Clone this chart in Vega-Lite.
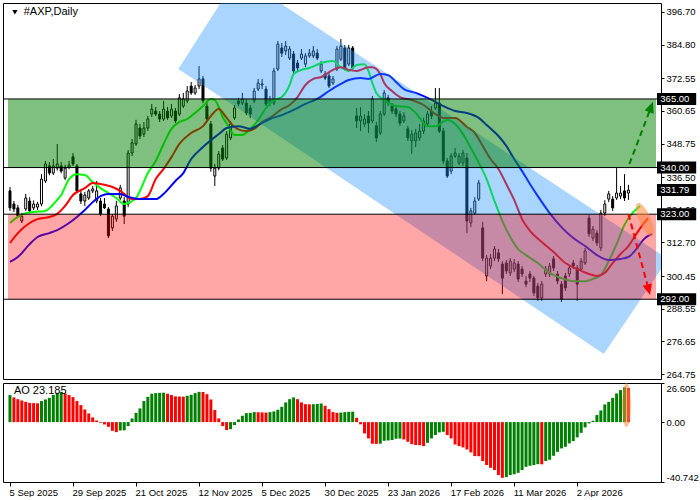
{
"$schema":"https://vega.github.io/schema/vega-lite/v6.json",
"padding":{"left":2,"top":2,"right":0,"bottom":0},
"spacing":2,
"background":"white",
"resolve":{"scale":{"color":"independent","fill":"independent","x":"independent","y":"independent"}},
"config":{"view":{"stroke":"#000","strokeWidth":1},"font":"Liberation Sans","axis":{"labelFont":"Liberation Sans","labelFontSize":9.5,"labelColor":"#000","tickColor":"#000","tickWidth":1,"grid":false,"domain":false,"labelOverlap":false}},
"datasets":{
"bars":[
{"i":0,"o":331.5,"h":332.9,"l":324.2,"c":325.3,"ao":18.4,"ad":"up"},
{"i":1,"o":326.7,"h":327.8,"l":323.8,"c":324.9,"ao":16.8,"ad":"dn"},
{"i":2,"o":325.3,"h":326.4,"l":321.6,"c":322.3,"ao":15.6,"ad":"dn"},
{"i":3,"o":320.5,"h":323.5,"l":319.8,"c":322.3,"ao":14.7,"ad":"dn"},
{"i":4,"o":324.9,"h":330.4,"l":324.2,"c":328.9,"ao":13.8,"ad":"dn"},
{"i":5,"o":327.8,"h":329.2,"l":323.5,"c":324.2,"ao":13.1,"ad":"dn"},
{"i":6,"o":325.3,"h":328.0,"l":324.5,"c":326.7,"ao":12.9,"ad":"dn"},
{"i":7,"o":325.6,"h":327.5,"l":324.6,"c":326.7,"ao":12.8,"ad":"dn"},
{"i":8,"o":326.7,"h":337.6,"l":325.9,"c":335.8,"ao":14.3,"ad":"up"},
{"i":9,"o":335.1,"h":342.4,"l":334.4,"c":341.3,"ao":15.4,"ad":"up"},
{"i":10,"o":340.6,"h":342.0,"l":337.2,"c":338.0,"ao":16.5,"ad":"up"},
{"i":11,"o":338.0,"h":343.1,"l":337.3,"c":340.6,"ao":18.4,"ad":"up"},
{"i":12,"o":339.8,"h":348.6,"l":338.9,"c":341.3,"ao":19.9,"ad":"up"},
{"i":13,"o":340.6,"h":342.0,"l":337.9,"c":338.7,"ao":20.6,"ad":"up"},
{"i":14,"o":336.2,"h":341.0,"l":335.5,"c":339.8,"ao":19.5,"ad":"dn"},
{"i":15,"o":340.2,"h":342.4,"l":339.4,"c":340.9,"ao":18.4,"ad":"dn"},
{"i":16,"o":343.9,"h":345.3,"l":340.6,"c":341.3,"ao":17.0,"ad":"dn"},
{"i":17,"o":340.6,"h":341.3,"l":330.7,"c":331.5,"ao":14.3,"ad":"dn"},
{"i":18,"o":330.4,"h":331.5,"l":326.7,"c":327.8,"ao":11.6,"ad":"dn"},
{"i":19,"o":327.8,"h":331.1,"l":326.0,"c":330.0,"ao":8.6,"ad":"dn"},
{"i":20,"o":328.9,"h":332.2,"l":328.2,"c":331.5,"ao":5.9,"ad":"dn"},
{"i":21,"o":331.5,"h":333.3,"l":330.7,"c":332.2,"ao":3.2,"ad":"dn"},
{"i":22,"o":327.8,"h":335.1,"l":327.0,"c":331.5,"ao":1.1,"ad":"dn"},
{"i":23,"o":327.8,"h":328.9,"l":322.3,"c":323.1,"ao":-0.5,"ad":"dn"},
{"i":24,"o":326.7,"h":328.9,"l":324.9,"c":325.3,"ao":-1.6,"ad":"dn"},
{"i":25,"o":324.9,"h":325.6,"l":314.3,"c":315.1,"ao":-3.2,"ad":"dn"},
{"i":26,"o":318.0,"h":323.1,"l":316.9,"c":322.3,"ao":-5.9,"ad":"dn"},
{"i":27,"o":321.2,"h":327.8,"l":320.2,"c":326.0,"ao":-6.8,"ad":"dn"},
{"i":28,"o":328.9,"h":333.7,"l":328.2,"c":332.6,"ao":-5.7,"ad":"up"},
{"i":29,"o":327.8,"h":329.2,"l":319.4,"c":322.3,"ao":-5.6,"ad":"up"},
{"i":30,"o":326.7,"h":346.4,"l":325.6,"c":345.3,"ao":-2.7,"ad":"up"},
{"i":31,"o":345.3,"h":350.4,"l":344.2,"c":349.0,"ao":2.5,"ad":"up"},
{"i":32,"o":348.6,"h":357.4,"l":347.9,"c":355.9,"ao":6.3,"ad":"up"},
{"i":33,"o":354.4,"h":355.9,"l":350.4,"c":351.5,"ao":9.3,"ad":"up"},
{"i":34,"o":352.2,"h":356.6,"l":351.1,"c":354.4,"ao":14.3,"ad":"up"},
{"i":35,"o":354.4,"h":358.8,"l":353.3,"c":357.7,"ao":17.2,"ad":"up"},
{"i":36,"o":359.5,"h":363.2,"l":358.4,"c":361.3,"ao":19.3,"ad":"up"},
{"i":37,"o":360.6,"h":362.1,"l":358.8,"c":359.5,"ao":19.7,"ad":"up"},
{"i":38,"o":359.5,"h":360.6,"l":356.6,"c":357.7,"ao":19.9,"ad":"up"},
{"i":39,"o":357.7,"h":364.3,"l":357.0,"c":361.3,"ao":20.0,"ad":"up"},
{"i":40,"o":360.6,"h":362.1,"l":357.4,"c":358.1,"ao":19.3,"ad":"dn"},
{"i":41,"o":358.8,"h":363.2,"l":358.1,"c":361.3,"ao":18.4,"ad":"dn"},
{"i":42,"o":360.6,"h":361.7,"l":356.2,"c":357.0,"ao":17.5,"ad":"dn"},
{"i":43,"o":359.5,"h":366.8,"l":358.8,"c":365.4,"ao":17.4,"ad":"dn"},
{"i":44,"o":362.4,"h":367.2,"l":361.7,"c":365.0,"ao":17.3,"ad":"dn"},
{"i":45,"o":364.3,"h":369.7,"l":363.5,"c":367.9,"ao":17.9,"ad":"up"},
{"i":46,"o":369.7,"h":371.2,"l":366.5,"c":367.2,"ao":18.6,"ad":"up"},
{"i":47,"o":367.2,"h":370.1,"l":366.5,"c":369.0,"ao":19.7,"ad":"up"},
{"i":48,"o":369.7,"h":377.0,"l":368.6,"c":372.3,"ao":20.6,"ad":"up"},
{"i":49,"o":372.3,"h":373.4,"l":363.5,"c":364.3,"ao":20.5,"ad":"dn"},
{"i":50,"o":362.4,"h":364.3,"l":356.6,"c":357.7,"ao":19.0,"ad":"dn"},
{"i":51,"o":355.9,"h":357.0,"l":338.5,"c":339.8,"ao":15.4,"ad":"dn"},
{"i":52,"o":336.9,"h":341.3,"l":333.3,"c":339.8,"ao":8.2,"ad":"dn"},
{"i":53,"o":339.8,"h":346.0,"l":339.0,"c":344.9,"ao":2.5,"ad":"dn"},
{"i":54,"o":347.1,"h":348.2,"l":342.4,"c":343.1,"ao":-2.7,"ad":"dn"},
{"i":55,"o":343.5,"h":353.3,"l":342.8,"c":352.2,"ao":-5.4,"ad":"dn"},
{"i":56,"o":350.8,"h":357.0,"l":350.0,"c":355.9,"ao":-4.8,"ad":"up"},
{"i":57,"o":358.1,"h":362.8,"l":357.4,"c":361.7,"ao":-2.0,"ad":"up"},
{"i":58,"o":364.3,"h":365.4,"l":362.4,"c":363.2,"ao":1.8,"ad":"up"},
{"i":59,"o":363.5,"h":367.2,"l":362.8,"c":365.0,"ao":4.3,"ad":"up"},
{"i":60,"o":363.5,"h":365.0,"l":359.1,"c":359.9,"ao":6.1,"ad":"up"},
{"i":61,"o":361.7,"h":362.8,"l":358.1,"c":359.5,"ao":6.3,"ad":"up"},
{"i":62,"o":364.3,"h":369.0,"l":363.5,"c":367.9,"ao":6.8,"ad":"up"},
{"i":63,"o":368.6,"h":372.3,"l":367.9,"c":370.8,"ao":6.7,"ad":"dn"},
{"i":64,"o":370.1,"h":372.3,"l":368.6,"c":370.5,"ao":6.6,"ad":"dn"},
{"i":65,"o":368.6,"h":369.7,"l":362.4,"c":363.2,"ao":6.5,"ad":"dn"},
{"i":66,"o":363.5,"h":366.1,"l":362.4,"c":364.6,"ao":6.8,"ad":"up"},
{"i":67,"o":363.5,"h":376.3,"l":362.8,"c":375.2,"ao":7.3,"ad":"up"},
{"i":68,"o":375.9,"h":386.1,"l":375.2,"c":385.0,"ao":8.4,"ad":"up"},
{"i":69,"o":383.6,"h":385.4,"l":380.3,"c":381.7,"ao":10.4,"ad":"up"},
{"i":70,"o":382.5,"h":386.1,"l":381.0,"c":384.3,"ao":13.4,"ad":"up"},
{"i":71,"o":379.9,"h":384.3,"l":379.2,"c":383.2,"ao":15.6,"ad":"up"},
{"i":72,"o":381.4,"h":382.5,"l":374.4,"c":375.2,"ao":16.8,"ad":"up"},
{"i":73,"o":378.1,"h":379.2,"l":375.2,"c":376.3,"ao":15.6,"ad":"dn"},
{"i":74,"o":379.9,"h":383.2,"l":379.2,"c":381.4,"ao":13.4,"ad":"dn"},
{"i":75,"o":377.7,"h":381.7,"l":376.6,"c":380.7,"ao":12.2,"ad":"dn"},
{"i":76,"o":380.7,"h":383.2,"l":380.0,"c":381.7,"ao":12.1,"ad":"dn"},
{"i":77,"o":380.7,"h":384.3,"l":379.9,"c":382.5,"ao":12.2,"ad":"up"},
{"i":78,"o":381.7,"h":383.2,"l":379.2,"c":379.9,"ao":12.4,"ad":"up"},
{"i":79,"o":375.2,"h":378.8,"l":374.4,"c":377.7,"ao":12.7,"ad":"up"},
{"i":80,"o":374.1,"h":375.2,"l":371.9,"c":372.6,"ao":11.1,"ad":"dn"},
{"i":81,"o":373.4,"h":374.4,"l":369.0,"c":369.7,"ao":8.8,"ad":"dn"},
{"i":82,"o":370.8,"h":373.4,"l":370.1,"c":372.3,"ao":6.8,"ad":"dn"},
{"i":83,"o":375.9,"h":384.3,"l":375.2,"c":383.2,"ao":6.3,"ad":"dn"},
{"i":84,"o":379.5,"h":386.9,"l":378.8,"c":384.3,"ao":6.5,"ad":"up"},
{"i":85,"o":383.6,"h":384.7,"l":375.5,"c":376.3,"ao":6.8,"ad":"up"},
{"i":86,"o":377.7,"h":384.7,"l":377.0,"c":383.6,"ao":7.0,"ad":"up"},
{"i":87,"o":383.6,"h":384.3,"l":375.5,"c":376.3,"ao":7.1,"ad":"up"},
{"i":88,"o":358.8,"h":361.7,"l":354.4,"c":357.0,"ao":2.9,"ad":"dn"},
{"i":89,"o":357.0,"h":362.1,"l":353.3,"c":358.8,"ao":-1.5,"ad":"dn"},
{"i":90,"o":355.9,"h":359.5,"l":354.8,"c":357.7,"ao":-7.7,"ad":"dn"},
{"i":91,"o":358.8,"h":360.6,"l":352.6,"c":356.2,"ao":-11.1,"ad":"dn"},
{"i":92,"o":357.0,"h":366.1,"l":356.2,"c":365.0,"ao":-14.7,"ad":"dn"},
{"i":93,"o":355.2,"h":356.6,"l":349.3,"c":350.8,"ao":-14.8,"ad":"dn"},
{"i":94,"o":352.6,"h":360.6,"l":351.9,"c":359.5,"ao":-14.7,"ad":"up"},
{"i":95,"o":359.5,"h":368.3,"l":358.8,"c":367.2,"ao":-12.7,"ad":"up"},
{"i":96,"o":365.4,"h":366.5,"l":362.4,"c":363.5,"ao":-12.5,"ad":"up"},
{"i":97,"o":362.4,"h":363.5,"l":359.5,"c":360.6,"ao":-12.2,"ad":"up"},
{"i":98,"o":361.3,"h":362.4,"l":358.4,"c":359.5,"ao":-11.3,"ad":"up"},
{"i":99,"o":359.5,"h":360.6,"l":355.2,"c":356.2,"ao":-11.2,"ad":"up"},
{"i":100,"o":357.0,"h":360.2,"l":356.2,"c":358.8,"ao":-11.8,"ad":"dn"},
{"i":101,"o":354.1,"h":355.2,"l":349.7,"c":350.8,"ao":-13.4,"ad":"dn"},
{"i":102,"o":349.7,"h":353.7,"l":345.0,"c":352.2,"ao":-15.0,"ad":"dn"},
{"i":103,"o":349.7,"h":354.1,"l":347.5,"c":352.6,"ao":-15.6,"ad":"dn"},
{"i":104,"o":350.8,"h":355.9,"l":349.7,"c":353.3,"ao":-15.7,"ad":"dn"},
{"i":105,"o":353.3,"h":358.1,"l":352.2,"c":357.0,"ao":-16.3,"ad":"dn"},
{"i":106,"o":355.9,"h":360.6,"l":355.2,"c":359.5,"ao":-14.1,"ad":"up"},
{"i":107,"o":360.6,"h":362.4,"l":357.7,"c":358.8,"ao":-11.1,"ad":"up"},
{"i":108,"o":361.7,"h":369.0,"l":361.0,"c":363.5,"ao":-8.8,"ad":"up"},
{"i":109,"o":363.5,"h":369.0,"l":352.6,"c":353.3,"ao":-7.0,"ad":"up"},
{"i":110,"o":353.3,"h":354.4,"l":341.3,"c":342.4,"ao":-6.6,"ad":"up"},
{"i":111,"o":342.4,"h":343.5,"l":336.2,"c":336.9,"ao":-8.8,"ad":"dn"},
{"i":112,"o":338.7,"h":345.3,"l":337.6,"c":344.2,"ao":-11.1,"ad":"dn"},
{"i":113,"o":344.2,"h":347.1,"l":343.5,"c":345.3,"ao":-15.2,"ad":"dn"},
{"i":114,"o":341.7,"h":345.3,"l":340.9,"c":344.2,"ao":-16.3,"ad":"dn"},
{"i":115,"o":341.7,"h":346.4,"l":340.6,"c":345.3,"ao":-17.2,"ad":"dn"},
{"i":116,"o":343.5,"h":345.3,"l":316.1,"c":320.5,"ao":-18.6,"ad":"dn"},
{"i":117,"o":319.8,"h":325.3,"l":318.3,"c":324.2,"ao":-20.6,"ad":"dn"},
{"i":118,"o":323.4,"h":329.2,"l":322.7,"c":327.8,"ao":-23.1,"ad":"dn"},
{"i":119,"o":328.5,"h":335.5,"l":327.8,"c":334.4,"ao":-23.2,"ad":"dn"},
{"i":120,"o":318.0,"h":320.2,"l":305.9,"c":307.0,"ao":-26.5,"ad":"dn"},
{"i":121,"o":300.5,"h":308.1,"l":298.6,"c":307.0,"ao":-29.2,"ad":"dn"},
{"i":122,"o":304.1,"h":308.5,"l":303.0,"c":307.0,"ao":-31.1,"ad":"dn"},
{"i":123,"o":307.0,"h":311.4,"l":305.9,"c":310.3,"ao":-32.6,"ad":"dn"},
{"i":124,"o":308.9,"h":310.3,"l":305.6,"c":306.7,"ao":-36.0,"ad":"dn"},
{"i":125,"o":304.8,"h":305.9,"l":293.9,"c":299.7,"ao":-37.9,"ad":"dn"},
{"i":126,"o":305.2,"h":306.3,"l":301.2,"c":302.3,"ao":-37.4,"ad":"up"},
{"i":127,"o":301.6,"h":307.0,"l":300.5,"c":305.9,"ao":-36.0,"ad":"up"},
{"i":128,"o":303.0,"h":306.7,"l":301.9,"c":305.2,"ao":-35.4,"ad":"up"},
{"i":129,"o":304.8,"h":305.9,"l":298.3,"c":299.4,"ao":-34.5,"ad":"up"},
{"i":130,"o":303.0,"h":304.1,"l":300.1,"c":301.2,"ao":-32.6,"ad":"up"},
{"i":131,"o":298.6,"h":300.5,"l":296.4,"c":297.5,"ao":-30.4,"ad":"up"},
{"i":132,"o":301.2,"h":302.3,"l":298.3,"c":299.7,"ao":-29.7,"ad":"up"},
{"i":133,"o":299.7,"h":300.5,"l":293.2,"c":294.3,"ao":-29.2,"ad":"up"},
{"i":134,"o":296.8,"h":297.9,"l":291.4,"c":292.5,"ao":-28.6,"ad":"up"},
{"i":135,"o":292.5,"h":298.6,"l":291.4,"c":297.5,"ao":-28.7,"ad":"dn"},
{"i":136,"o":301.2,"h":304.1,"l":300.1,"c":303.0,"ao":-26.5,"ad":"up"},
{"i":137,"o":301.2,"h":305.2,"l":300.1,"c":304.1,"ao":-25.6,"ad":"up"},
{"i":138,"o":306.7,"h":307.8,"l":302.3,"c":303.4,"ao":-22.9,"ad":"up"},
{"i":139,"o":301.2,"h":302.3,"l":297.5,"c":298.6,"ao":-20.2,"ad":"up"},
{"i":140,"o":297.5,"h":298.6,"l":291.0,"c":292.1,"ao":-17.9,"ad":"up"},
{"i":141,"o":300.5,"h":301.6,"l":295.0,"c":296.1,"ao":-16.8,"ad":"up"},
{"i":142,"o":301.2,"h":304.5,"l":300.1,"c":303.4,"ao":-14.5,"ad":"up"},
{"i":143,"o":305.2,"h":306.3,"l":303.0,"c":304.1,"ao":-12.9,"ad":"up"},
{"i":144,"o":303.4,"h":304.5,"l":291.4,"c":297.5,"ao":-10.4,"ad":"up"},
{"i":145,"o":303.0,"h":307.0,"l":302.3,"c":305.9,"ao":-7.3,"ad":"up"},
{"i":146,"o":305.2,"h":310.7,"l":304.5,"c":309.6,"ao":-3.6,"ad":"up"},
{"i":147,"o":321.6,"h":322.7,"l":314.7,"c":315.8,"ao":-0.9,"ad":"up"},
{"i":148,"o":314.3,"h":318.7,"l":313.2,"c":317.6,"ao":0.9,"ad":"up"},
{"i":149,"o":316.1,"h":317.2,"l":311.4,"c":312.5,"ao":4.8,"ad":"up"},
{"i":150,"o":310.7,"h":324.5,"l":309.6,"c":323.4,"ao":7.9,"ad":"up"},
{"i":151,"o":323.4,"h":328.1,"l":322.3,"c":326.7,"ao":12.0,"ad":"up"},
{"i":152,"o":328.5,"h":331.5,"l":327.4,"c":330.4,"ao":13.8,"ad":"up"},
{"i":153,"o":328.5,"h":329.6,"l":324.2,"c":325.3,"ao":16.5,"ad":"up"},
{"i":154,"o":328.9,"h":339.8,"l":328.2,"c":330.7,"ao":19.5,"ad":"up"},
{"i":155,"o":329.6,"h":333.3,"l":328.5,"c":330.7,"ao":21.8,"ad":"up"},
{"i":156,"o":331.5,"h":337.6,"l":327.8,"c":328.9,"ao":23.6,"ad":"up"},
{"i":157,"o":330.7,"h":333.7,"l":328.2,"c":331.79,"ao":23.185,"ad":"dn"}
],
"gator":[
{"i":0,"v":319.8,"s":"lips"},{"i":2,"v":322.0,"s":"lips"},{"i":4,"v":323.4,"s":"lips"},{"i":6,"v":323.8,"s":"lips"},{"i":9,"v":324.2,"s":"lips"},{"i":10,"v":325.2,"s":"lips"},{"i":12,"v":328.2,"s":"lips"},{"i":13,"v":330.0,"s":"lips"},{"i":15,"v":335.8,"s":"lips"},{"i":17,"v":337.6,"s":"lips"},{"i":19,"v":337.3,"s":"lips"},{"i":21,"v":334.7,"s":"lips"},{"i":23,"v":332.5,"s":"lips"},{"i":25,"v":330.7,"s":"lips"},{"i":27,"v":328.9,"s":"lips"},{"i":29,"v":326.7,"s":"lips"},{"i":31,"v":327.8,"s":"lips"},{"i":32,"v":328.9,"s":"lips"},{"i":33,"v":331.5,"s":"lips"},{"i":35,"v":338.0,"s":"lips"},{"i":37,"v":342.4,"s":"lips"},{"i":39,"v":348.6,"s":"lips"},{"i":41,"v":354.1,"s":"lips"},{"i":43,"v":356.6,"s":"lips"},{"i":45,"v":357.7,"s":"lips"},{"i":47,"v":359.9,"s":"lips"},{"i":49,"v":362.4,"s":"lips"},{"i":51,"v":365.0,"s":"lips"},{"i":52,"v":364.6,"s":"lips"},{"i":53,"v":362.1,"s":"lips"},{"i":54,"v":358.4,"s":"lips"},{"i":55,"v":356.2,"s":"lips"},{"i":57,"v":351.9,"s":"lips"},{"i":59,"v":351.9,"s":"lips"},{"i":61,"v":354.1,"s":"lips"},{"i":63,"v":357.3,"s":"lips"},{"i":65,"v":361.7,"s":"lips"},{"i":67,"v":364.6,"s":"lips"},{"i":69,"v":365.7,"s":"lips"},{"i":71,"v":370.1,"s":"lips"},{"i":72,"v":374.1,"s":"lips"},{"i":74,"v":375.6,"s":"lips"},{"i":76,"v":376.3,"s":"lips"},{"i":79,"v":378.1,"s":"lips"},{"i":82,"v":378.8,"s":"lips"},{"i":84,"v":376.6,"s":"lips"},{"i":86,"v":375.2,"s":"lips"},{"i":88,"v":377.4,"s":"lips"},{"i":90,"v":377.7,"s":"lips"},{"i":91,"v":375.2,"s":"lips"},{"i":92,"v":370.8,"s":"lips"},{"i":93,"v":367.2,"s":"lips"},{"i":95,"v":364.6,"s":"lips"},{"i":98,"v":362.4,"s":"lips"},{"i":101,"v":362.1,"s":"lips"},{"i":103,"v":359.9,"s":"lips"},{"i":106,"v":355.1,"s":"lips"},{"i":108,"v":355.1,"s":"lips"},{"i":111,"v":357.3,"s":"lips"},{"i":113,"v":355.9,"s":"lips"},{"i":115,"v":352.2,"s":"lips"},{"i":117,"v":347.1,"s":"lips"},{"i":119,"v":341.7,"s":"lips"},{"i":121,"v":335.8,"s":"lips"},{"i":123,"v":327.8,"s":"lips"},{"i":125,"v":320.5,"s":"lips"},{"i":127,"v":314.7,"s":"lips"},{"i":129,"v":310.3,"s":"lips"},{"i":131,"v":308.1,"s":"lips"},{"i":134,"v":305.2,"s":"lips"},{"i":137,"v":301.6,"s":"lips"},{"i":140,"v":299.7,"s":"lips"},{"i":143,"v":298.6,"s":"lips"},{"i":146,"v":298.6,"s":"lips"},{"i":148,"v":299.4,"s":"lips"},{"i":150,"v":300.8,"s":"lips"},{"i":152,"v":305.9,"s":"lips"},{"i":154,"v":312.1,"s":"lips"},{"i":156,"v":319.1,"s":"lips"},{"i":158,"v":323.4,"s":"lips"},{"i":160,"v":326.0,"s":"lips"},
{"i":0,"v":312.5,"s":"teeth"},{"i":2,"v":316.1,"s":"teeth"},{"i":5,"v":319.8,"s":"teeth"},{"i":7,"v":321.2,"s":"teeth"},{"i":10,"v":322.0,"s":"teeth"},{"i":12,"v":323.1,"s":"teeth"},{"i":14,"v":326.0,"s":"teeth"},{"i":16,"v":330.0,"s":"teeth"},{"i":19,"v":332.5,"s":"teeth"},{"i":21,"v":334.4,"s":"teeth"},{"i":23,"v":334.0,"s":"teeth"},{"i":26,"v":332.9,"s":"teeth"},{"i":28,"v":331.5,"s":"teeth"},{"i":31,"v":328.5,"s":"teeth"},{"i":33,"v":328.5,"s":"teeth"},{"i":35,"v":329.6,"s":"teeth"},{"i":37,"v":335.8,"s":"teeth"},{"i":39,"v":339.5,"s":"teeth"},{"i":41,"v":343.8,"s":"teeth"},{"i":43,"v":348.6,"s":"teeth"},{"i":46,"v":352.6,"s":"teeth"},{"i":49,"v":355.1,"s":"teeth"},{"i":51,"v":358.8,"s":"teeth"},{"i":53,"v":361.3,"s":"teeth"},{"i":55,"v":358.1,"s":"teeth"},{"i":57,"v":354.8,"s":"teeth"},{"i":60,"v":353.3,"s":"teeth"},{"i":62,"v":354.1,"s":"teeth"},{"i":64,"v":356.6,"s":"teeth"},{"i":66,"v":358.1,"s":"teeth"},{"i":69,"v":361.3,"s":"teeth"},{"i":71,"v":362.8,"s":"teeth"},{"i":73,"v":365.7,"s":"teeth"},{"i":75,"v":370.1,"s":"teeth"},{"i":77,"v":372.3,"s":"teeth"},{"i":79,"v":373.0,"s":"teeth"},{"i":82,"v":375.6,"s":"teeth"},{"i":84,"v":376.6,"s":"teeth"},{"i":86,"v":375.6,"s":"teeth"},{"i":88,"v":375.2,"s":"teeth"},{"i":91,"v":376.6,"s":"teeth"},{"i":92,"v":376.6,"s":"teeth"},{"i":94,"v":374.1,"s":"teeth"},{"i":95,"v":370.8,"s":"teeth"},{"i":97,"v":367.9,"s":"teeth"},{"i":99,"v":365.7,"s":"teeth"},{"i":102,"v":364.6,"s":"teeth"},{"i":105,"v":362.8,"s":"teeth"},{"i":108,"v":359.5,"s":"teeth"},{"i":110,"v":358.1,"s":"teeth"},{"i":113,"v":358.1,"s":"teeth"},{"i":116,"v":354.8,"s":"teeth"},{"i":118,"v":352.6,"s":"teeth"},{"i":120,"v":347.9,"s":"teeth"},{"i":122,"v":343.1,"s":"teeth"},{"i":124,"v":339.5,"s":"teeth"},{"i":126,"v":334.0,"s":"teeth"},{"i":128,"v":328.2,"s":"teeth"},{"i":130,"v":321.2,"s":"teeth"},{"i":132,"v":316.9,"s":"teeth"},{"i":135,"v":312.9,"s":"teeth"},{"i":138,"v":309.2,"s":"teeth"},{"i":141,"v":305.2,"s":"teeth"},{"i":144,"v":303.0,"s":"teeth"},{"i":147,"v":301.2,"s":"teeth"},{"i":149,"v":300.5,"s":"teeth"},{"i":151,"v":301.6,"s":"teeth"},{"i":153,"v":305.2,"s":"teeth"},{"i":155,"v":308.5,"s":"teeth"},{"i":157,"v":311.4,"s":"teeth"},{"i":159,"v":315.8,"s":"teeth"},{"i":161,"v":319.8,"s":"teeth"},{"i":162,"v":321.6,"s":"teeth"},
{"i":0,"v":305.6,"s":"jaw"},{"i":2,"v":307.4,"s":"jaw"},{"i":5,"v":312.1,"s":"jaw"},{"i":7,"v":314.7,"s":"jaw"},{"i":10,"v":316.1,"s":"jaw"},{"i":12,"v":317.2,"s":"jaw"},{"i":15,"v":319.8,"s":"jaw"},{"i":17,"v":322.0,"s":"jaw"},{"i":19,"v":324.5,"s":"jaw"},{"i":21,"v":327.4,"s":"jaw"},{"i":23,"v":329.6,"s":"jaw"},{"i":25,"v":330.4,"s":"jaw"},{"i":28,"v":330.4,"s":"jaw"},{"i":30,"v":329.3,"s":"jaw"},{"i":33,"v":328.5,"s":"jaw"},{"i":37,"v":328.5,"s":"jaw"},{"i":39,"v":330.4,"s":"jaw"},{"i":42,"v":335.1,"s":"jaw"},{"i":44,"v":338.0,"s":"jaw"},{"i":46,"v":343.1,"s":"jaw"},{"i":49,"v":347.5,"s":"jaw"},{"i":53,"v":352.2,"s":"jaw"},{"i":55,"v":354.4,"s":"jaw"},{"i":58,"v":355.1,"s":"jaw"},{"i":61,"v":354.1,"s":"jaw"},{"i":63,"v":355.5,"s":"jaw"},{"i":66,"v":357.7,"s":"jaw"},{"i":69,"v":359.1,"s":"jaw"},{"i":72,"v":361.0,"s":"jaw"},{"i":75,"v":363.2,"s":"jaw"},{"i":78,"v":365.0,"s":"jaw"},{"i":81,"v":367.9,"s":"jaw"},{"i":84,"v":370.5,"s":"jaw"},{"i":86,"v":371.9,"s":"jaw"},{"i":89,"v":372.6,"s":"jaw"},{"i":91,"v":372.3,"s":"jaw"},{"i":94,"v":374.1,"s":"jaw"},{"i":96,"v":373.7,"s":"jaw"},{"i":98,"v":371.2,"s":"jaw"},{"i":100,"v":368.6,"s":"jaw"},{"i":103,"v":367.2,"s":"jaw"},{"i":106,"v":365.4,"s":"jaw"},{"i":110,"v":362.4,"s":"jaw"},{"i":113,"v":360.6,"s":"jaw"},{"i":116,"v":359.9,"s":"jaw"},{"i":119,"v":358.1,"s":"jaw"},{"i":121,"v":355.5,"s":"jaw"},{"i":124,"v":351.5,"s":"jaw"},{"i":126,"v":347.9,"s":"jaw"},{"i":128,"v":343.1,"s":"jaw"},{"i":130,"v":338.7,"s":"jaw"},{"i":132,"v":334.0,"s":"jaw"},{"i":134,"v":329.6,"s":"jaw"},{"i":137,"v":323.4,"s":"jaw"},{"i":140,"v":318.3,"s":"jaw"},{"i":143,"v":314.3,"s":"jaw"},{"i":146,"v":311.4,"s":"jaw"},{"i":149,"v":308.1,"s":"jaw"},{"i":152,"v":306.3,"s":"jaw"},{"i":155,"v":306.7,"s":"jaw"},{"i":157,"v":307.4,"s":"jaw"},{"i":159,"v":310.3,"s":"jaw"},{"i":161,"v":314.0,"s":"jaw"},{"i":163,"v":315.8,"s":"jaw"}
],
"channel":[{"i":42.75,"top":375.92,"bot":375.92},{"i":57.95,"top":410.04,"bot":361.5},{"i":150.75,"top":322.07,"bot":272.0},{"i":167,"top":306.67,"bot":306.67}],
"zones":[{"z":"buy","lo":340,"hi":365},{"z":"sell","lo":292,"hi":323}],
"levels":[{"p":365},{"p":340},{"p":323},{"p":292}],
"tags":[{"p":365},{"p":340},{"p":331.79},{"p":323},{"p":292}],
"arrows":[{"k":"up","i1":157.25,"p1":341.3,"i2":162.7,"p2":361.9},{"k":"down","i1":157,"p1":323.1,"i2":162.1,"p2":295.7}],
"hlmain":[{"i":161.2,"p":321.0}],
"hlao":[{"i":156.5,"v":11.6}],
"title":[{"label":"#AXP,Daily"}],
"aolabel":[{"label":"AO 23.185"}]
},
"vconcat":[
{
"width":658,"height":376,
"layer":[
{"data":{"name":"bars"},"mark":{"type":"rule","color":"#000","strokeWidth":1},
 "encoding":{"x":{"field":"i","type":"quantitative","scale":{"domain":[-0.5,164],"nice":false,"zero":false},"axis":null},
 "y":{"field":"l","type":"quantitative","scale":{"domain":[262.93,399.98],"nice":false,"zero":false},"axis":{"orient":"right","title":null,"values":[264.75,276.65,288.55,300.45,312.7,324.6,336.5,348.75,360.65,372.55,384.8,396.7],"tickCount":30,"format":".2f","tickSize":3,"labelPadding":2,"labelOverlap":false}},
 "y2":{"field":"h"}}},
{"data":{"name":"bars"},"mark":{"type":"bar","width":2,"stroke":"#000","strokeWidth":1},
 "encoding":{"x":{"field":"i","type":"quantitative","scale":{"domain":[-0.5,164],"nice":false,"zero":false},"axis":null},
 "y":{"field":"o","type":"quantitative","scale":{"domain":[262.93,399.98],"nice":false,"zero":false}},
 "y2":{"field":"c"},
 "fill":{"condition":{"test":"datum.c >= datum.o","value":"#ffffff"},"value":"#000000"}}},
{"data":{"name":"gator"},"mark":{"type":"line","strokeWidth":2,"interpolate":"monotone","clip":true},
 "encoding":{"x":{"field":"i","type":"quantitative","scale":{"domain":[-0.5,164],"nice":false,"zero":false},"axis":null},
 "y":{"field":"v","type":"quantitative","scale":{"domain":[262.93,399.98],"nice":false,"zero":false}},
 "color":{"field":"s","type":"nominal","scale":{"domain":["jaw","teeth","lips"],"range":["#0000FF","#FF0000","#00FF00"]},"legend":null}}},
{"data":{"name":"channel"},"mark":{"type":"area","color":"#1E90FF","opacity":0.38,"clip":true},
 "encoding":{"x":{"field":"i","type":"quantitative","scale":{"domain":[-0.5,164],"nice":false,"zero":false},"axis":null},
 "y":{"field":"top","type":"quantitative","scale":{"domain":[262.93,399.98],"nice":false,"zero":false}},
 "y2":{"field":"bot"}}},
{"data":{"name":"zones"},"mark":{"type":"rect"},
 "encoding":{"x":{"datum":-0.5,"type":"quantitative","scale":{"domain":[-0.5,164],"nice":false,"zero":false},"axis":null},
 "x2":{"datum":164},
 "y":{"field":"lo","type":"quantitative","scale":{"domain":[262.93,399.98],"nice":false,"zero":false}},
 "y2":{"field":"hi"},
 "fill":{"field":"z","type":"nominal","scale":{"domain":["buy","sell"],"range":["#008000","#FF0000"]},"legend":null},
 "fillOpacity":{"field":"z","type":"ordinal","scale":{"domain":["buy","sell"],"range":[0.5,0.35]},"legend":null}}},
{"data":{"name":"levels"},"mark":{"type":"rule","color":"#000","strokeWidth":1},
 "encoding":{"y":{"field":"p","type":"quantitative","scale":{"domain":[262.93,399.98],"nice":false,"zero":false}}}},
{"data":{"name":"hlmain"},"mark":{"type":"point","shape":"M0,-1 A0.33,1 0 1,1 0,1 A0.33,1 0 1,1 0,-1 Z","size":1296,"angle":-24,"filled":true,"fill":"#FF8A3D","opacity":0.55,"strokeWidth":0},
 "encoding":{"x":{"field":"i","type":"quantitative","scale":{"domain":[-0.5,164],"nice":false,"zero":false},"axis":null},
 "y":{"field":"p","type":"quantitative","scale":{"domain":[262.93,399.98],"nice":false,"zero":false}}}},
{"data":{"name":"arrows"},"transform":[{"filter":"datum.k == 'up'"}],"mark":{"type":"rule","strokeWidth":2,"strokeDash":[6,4],"color":"#008000"},
 "encoding":{"x":{"field":"i1","type":"quantitative","scale":{"domain":[-0.5,164],"nice":false,"zero":false},"axis":null},
 "x2":{"field":"i2"},
 "y":{"field":"p1","type":"quantitative","scale":{"domain":[262.93,399.98],"nice":false,"zero":false}},
 "y2":{"field":"p2"}}},
{"data":{"name":"arrows"},"transform":[{"filter":"datum.k == 'down'"}],"mark":{"type":"rule","strokeWidth":2,"strokeDash":[6,4],"color":"#FF0000"},
 "encoding":{"x":{"field":"i1","type":"quantitative","scale":{"domain":[-0.5,164],"nice":false,"zero":false},"axis":null},
 "x2":{"field":"i2"},
 "y":{"field":"p1","type":"quantitative","scale":{"domain":[262.93,399.98],"nice":false,"zero":false}},
 "y2":{"field":"p2"}}},
{"data":{"name":"arrows"},"transform":[{"filter":"datum.k == 'up'"}],"mark":{"type":"point","shape":"M0,-1 L0.8,0.8 L-0.8,0.8 Z","size":144,"angle":21,"filled":true,"color":"#008000","opacity":1},
 "encoding":{"x":{"field":"i2","type":"quantitative","scale":{"domain":[-0.5,164],"nice":false,"zero":false},"axis":null},
 "y":{"field":"p2","type":"quantitative","scale":{"domain":[262.93,399.98],"nice":false,"zero":false}}}},
{"data":{"name":"arrows"},"transform":[{"filter":"datum.k == 'down'"}],"mark":{"type":"point","shape":"M0,-1 L0.8,0.8 L-0.8,0.8 Z","size":144,"angle":165,"filled":true,"color":"#FF0000","opacity":1},
 "encoding":{"x":{"field":"i2","type":"quantitative","scale":{"domain":[-0.5,164],"nice":false,"zero":false},"axis":null},
 "y":{"field":"p2","type":"quantitative","scale":{"domain":[262.93,399.98],"nice":false,"zero":false}}}},
{"data":{"name":"title"},"mark":{"type":"point","shape":"triangle-down","size":28,"filled":true,"color":"#000","opacity":1},
 "encoding":{"x":{"datum":1.25,"type":"quantitative","scale":{"domain":[-0.5,164],"nice":false,"zero":false},"axis":null},
 "y":{"datum":396.6,"type":"quantitative","scale":{"domain":[262.93,399.98],"nice":false,"zero":false}}}},
{"data":{"name":"title"},"mark":{"type":"text","align":"left","baseline":"middle","fontSize":11,"font":"Liberation Sans","color":"#000"},
 "encoding":{"x":{"datum":3.5,"type":"quantitative","scale":{"domain":[-0.5,164],"nice":false,"zero":false},"axis":null},
 "y":{"datum":396.6,"type":"quantitative","scale":{"domain":[262.93,399.98],"nice":false,"zero":false}},
 "text":{"field":"label"}}},
{"data":{"name":"tags"},"mark":{"type":"rect","color":"#000","yOffset":-6,"y2Offset":6},
 "encoding":{"x":{"datum":164.25,"type":"quantitative","scale":{"domain":[-0.5,164],"nice":false,"zero":false},"axis":null},
 "x2":{"datum":174.2},
 "y":{"field":"p","type":"quantitative","scale":{"domain":[262.93,399.98],"nice":false,"zero":false}},
 "y2":{"field":"p"}}},
{"data":{"name":"tags"},"mark":{"type":"text","align":"left","baseline":"middle","fontSize":9.5,"font":"Liberation Sans","color":"#fff"},
 "encoding":{"x":{"datum":165.1,"type":"quantitative","scale":{"domain":[-0.5,164],"nice":false,"zero":false},"axis":null},
 "y":{"field":"p","type":"quantitative","scale":{"domain":[262.93,399.98],"nice":false,"zero":false}},
 "text":{"field":"p","format":".2f"}}}
]
},
{
"width":658,"height":99,
"layer":[
{"data":{"name":"bars"},"mark":{"type":"bar","width":3},
 "encoding":{"x":{"field":"i","type":"quantitative","scale":{"domain":[-0.5,164],"nice":false,"zero":false},
  "axis":{"orient":"bottom","title":null,"values":[0,16,32,48,64,80,96,112,128,144],"tickCount":30,"tickSize":4,"labelPadding":1,"labelAlign":"left","labelFlush":false,"labelOffset":-1,"labelOverlap":false,"labelExpr":"datum.value==0?'5 Sep 2025':datum.value==16?'29 Sep 2025':datum.value==32?'21 Oct 2025':datum.value==48?'12 Nov 2025':datum.value==64?'5 Dec 2025':datum.value==80?'30 Dec 2025':datum.value==96?'23 Jan 2026':datum.value==112?'17 Feb 2026':datum.value==128?'11 Mar 2026':'2 Apr 2026'"}},
 "y":{"field":"ao","type":"quantitative","scale":{"domain":[-40.742,26.605],"nice":false,"zero":false},
  "axis":{"orient":"right","title":null,"values":[26.605,0,-40.742],"tickCount":10,"tickSize":3,"labelPadding":2,"labelFlush":true,"labelOverlap":false,"labelExpr":"datum.value==0?'0.00':''+datum.value"}},
 "y2":{"datum":0},
 "color":{"field":"ad","type":"nominal","scale":{"domain":["up","dn"],"range":["#008000","#FF0000"]},"legend":null}}},
{"data":{"name":"hlao"},"mark":{"type":"point","shape":"M0,-1 A0.2,1 0 1,1 0,1 A0.2,1 0 1,1 0,-1 Z","size":1936,"filled":true,"fill":"#FF8A3D","opacity":0.55,"strokeWidth":0},
 "encoding":{"x":{"field":"i","type":"quantitative","scale":{"domain":[-0.5,164],"nice":false,"zero":false}},
 "y":{"field":"v","type":"quantitative","scale":{"domain":[-40.742,26.605],"nice":false,"zero":false}}}},
{"data":{"name":"aolabel"},"mark":{"type":"text","align":"left","baseline":"middle","fontSize":11,"font":"Liberation Sans","color":"#000"},
 "encoding":{"x":{"datum":1,"type":"quantitative","scale":{"domain":[-0.5,164],"nice":false,"zero":false}},
 "y":{"datum":21.0,"type":"quantitative","scale":{"domain":[-40.742,26.605],"nice":false,"zero":false}},
 "text":{"field":"label"}}}
]
}
]
}
